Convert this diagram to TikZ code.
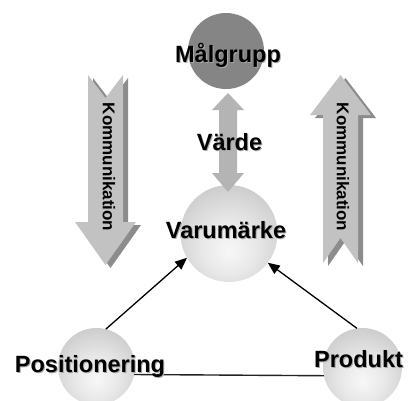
\documentclass[tikz,border=0pt]{standalone}
\usepackage{fontspec}
\setmainfont{Liberation Sans}
\usetikzlibrary{arrows.meta}

\definecolor{arrowfill}{HTML}{C2C2C2}
\definecolor{arrowside}{HTML}{8C8C8C}
\definecolor{linkfill}{HTML}{B4B4B4}
\definecolor{topball}{HTML}{858585}
\definecolor{textshade}{HTML}{A8A8A8}
\definecolor{baseline}{HTML}{222222}

% light sphere: bright spot a little below the middle, grey rim
\pgfdeclareradialshading{softball}{\pgfpoint{0bp}{-9bp}}{%
  color(0bp)=(white!97!black);
  color(14bp)=(white!91!black);
  color(50bp)=(white!68!black);
  color(60bp)=(white!66!black);
  color(80bp)=(white!66!black)}

% text with a soft grey drop shadow
\newcommand\shadowed[1]{\makebox[0pt][l]{\hspace{1bp}\raisebox{-1bp}{\textcolor{textshade}{#1}}}#1}

\tikzset{
  ball/.style={circle, draw=none, inner sep=0pt, outer sep=0pt, shading=softball},
  darkball/.style={circle, draw=none, inner sep=0pt, outer sep=0pt, fill=topball},
  biglabel/.style={inner sep=0pt, anchor=base, font=\fontsize{23.5bp}{28bp}\bfseries\selectfont},
  commlabel/.style={inner sep=0pt, rotate=-90, font=\fontsize{17bp}{20bp}\bfseries\selectfont},
  link/.style={line width=1.3bp, draw=black, -{Triangle[length=12bp, width=10bp]}},
  baseedge/.style={line width=1.4bp, draw=baseline},
}

\begin{document}
\begin{tikzpicture}[x=1bp, y=-1bp]
  \useasboundingbox (0,0) rectangle (409,401);
  \clip (0,0) rectangle (409,401);

  % downward "Kommunikation" arrow (left), side face first
  \fill[arrowside, shift={(5,3)}]
    (88,75) -- (105.5,98) -- (123,75) -- (123,222) -- (136,222)
    -- (105.5,265) -- (75,222) -- (88,222) -- cycle;
  \fill[arrowfill]
    (88,75) -- (105.5,98) -- (123,75) -- (123,222) -- (136,222)
    -- (105.5,265) -- (75,222) -- (88,222) -- cycle;

  % upward "Kommunikation" arrow (right), side face first
  \fill[arrowside, shift={(5,3)}]
    (340.5,75) -- (371,115) -- (358,115) -- (358,263) -- (340.5,238)
    -- (323,263) -- (323,115) -- (310,115) -- cycle;
  \fill[arrowfill]
    (340.5,75) -- (371,115) -- (358,115) -- (358,263) -- (340.5,238)
    -- (323,263) -- (323,115) -- (310,115) -- cycle;

  \node[commlabel] (commL) at (109,167) {Kommunikation};
  \node[commlabel] (commR) at (343,167) {Kommunikation};

  % the four spheres
  \node[darkball, minimum size=76bp] (mal)  at (226,51) {};
  \node[ball, minimum size=97bp]     (var)  at (229,233.5) {};
  \node[ball, minimum size=77bp]     (pos)  at (96.5,366.5) {};
  \node[ball, minimum size=79bp]     (prod) at (362.5,367.5) {};

  % two-headed value arrow between Målgrupp and Varumärke
  \fill[linkfill]
    (228,93) -- (244,110) -- (237,110) -- (237,173) -- (244,173)
    -- (228,192) -- (212,173) -- (219,173) -- (219,110) -- (212,110) -- cycle;

  % connectors
  \draw[baseedge] (pos.-12) -- (prod.192);
  \draw[link] (pos.76) -- (var.210);
  \draw[link] (prod.98) -- (var.323);

  % labels
  \node[biglabel] (tmal)  at (228,62)    {\shadowed{Målgrupp}};
  \node[biglabel] (tvard) at (229.5,150) {\shadowed{Värde}};
  \node[biglabel] (tvar)  at (226,238)   {\shadowed{Varumärke}};
  \node[biglabel] (tpos)  at (90,372)    {\shadowed{Positionering}};
  \node[biglabel] (tprod) at (358.5,367) {\shadowed{Produkt}};
\end{tikzpicture}
\end{document}
